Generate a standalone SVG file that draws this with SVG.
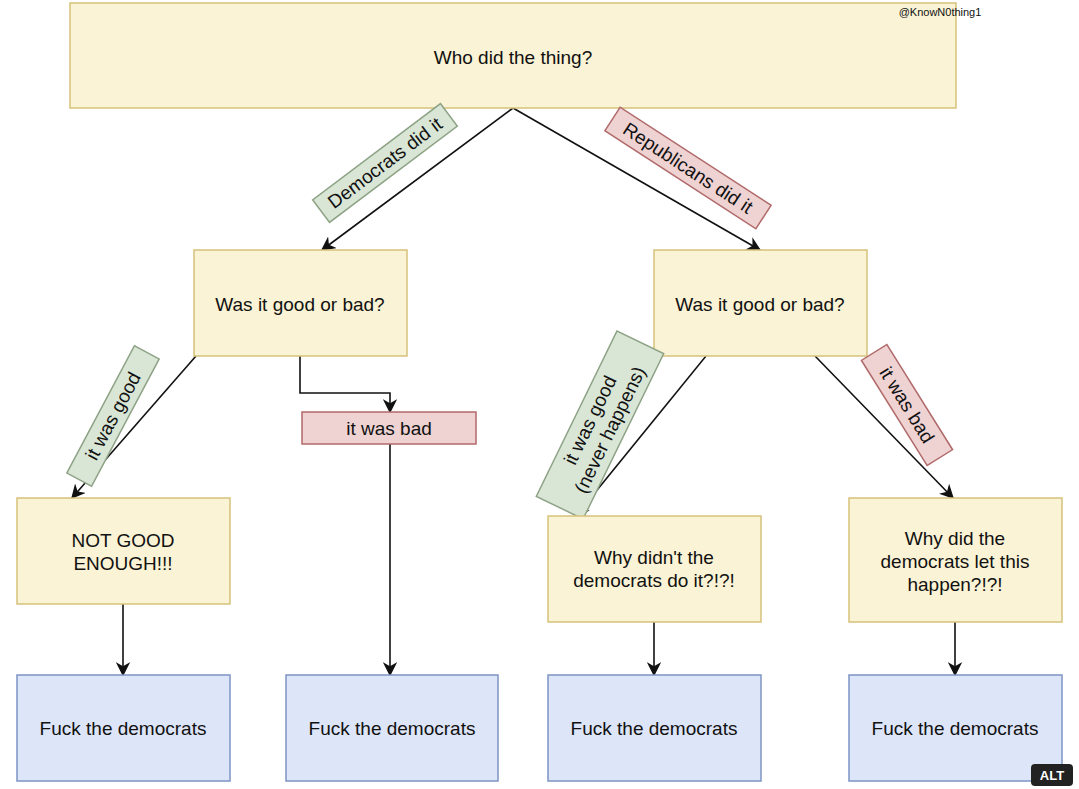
<svg xmlns="http://www.w3.org/2000/svg" width="1079" height="789" viewBox="0 0 1079 789">
<defs>
<style>
text{font-family:"Liberation Sans",Arial,sans-serif;fill:#111;text-anchor:middle;dominant-baseline:central}
.y{fill:#fbf3d5;stroke:#d6c27a;stroke-width:1.5}
.b{fill:#dde5f8;stroke:#7d94c4;stroke-width:1.5}
.g{fill:#d9e6d6;stroke:#8ea386;stroke-width:1.5}
.r{fill:#efd3d3;stroke:#b16a6a;stroke-width:1.5}
.t{font-size:19px}
.c{fill:none;stroke:#111;stroke-width:1.6;marker-end:url(#a)}
</style>
<marker id="a" viewBox="0 0 10 10" refX="9" refY="5" markerWidth="9" markerHeight="9" orient="auto"><path d="M0,0L10,5L0,10L3,5z" fill="#111"/></marker>
</defs>
<rect width="1079" height="789" fill="#fff"/>
<g id="connectors">
<path class="c" d="M513,108L322,250"/>
<path class="c" d="M513,108L760,250"/>
<path class="c" d="M196,356L72,498"/>
<path class="c" d="M300,356V393H390V412"/>
<path class="c" d="M390,444V675"/>
<path class="c" d="M706,356L576,516"/>
<path class="c" d="M815,356L953,498"/>
<path class="c" d="M123,604V675"/>
<path class="c" d="M654,622V675"/>
<path class="c" d="M955,622V675"/>
</g>
<g id="top"><rect class="y" x="70" y="3" width="886" height="105"/><text class="t" x="513" y="57">Who did the thing?</text></g>
<text x="940" y="12" font-size="11">@KnowN0thing1</text>
<g id="lab-dem" transform="translate(385,163) rotate(-37)"><rect class="g" x="-80" y="-14" width="160" height="28"/><text class="t" y="0">Democrats did it</text></g>
<g id="lab-rep" transform="translate(688,168) rotate(33)"><rect class="r" x="-90" y="-14" width="180" height="28"/><text class="t" y="0">Republicans did it</text></g>
<g id="q1"><rect class="y" x="194" y="250" width="213" height="106"/><text class="t" x="300" y="304">Was it good or bad?</text></g>
<g id="q2"><rect class="y" x="654" y="250" width="213" height="106"/><text class="t" x="760" y="304">Was it good or bad?</text></g>
<g id="lab-good1" transform="translate(113,416) rotate(-62)"><rect class="g" x="-72" y="-14" width="144" height="28"/><text class="t" y="0">it was good</text></g>
<g id="bad1"><rect class="r" x="302" y="412" width="174" height="32"/><text class="t" x="389" y="428">it was bad</text></g>
<g id="lab-good2" transform="translate(600,425) rotate(-64)"><rect class="g" x="-92" y="-26" width="184" height="52"/><text class="t" y="-11">it was good</text><text class="t" y="11">(never happens)</text></g>
<g id="lab-bad2" transform="translate(907,405) rotate(58)"><rect class="r" x="-62" y="-15" width="124" height="30"/><text class="t" y="0">it was bad</text></g>
<g id="ng"><rect class="y" x="17" y="498" width="213" height="106"/><text class="t" x="123" y="540">NOT GOOD</text><text class="t" x="123" y="563">ENOUGH!!!</text></g>
<g id="wd"><rect class="y" x="548" y="516" width="213" height="106"/><text class="t" x="654" y="557">Why didn't the</text><text class="t" x="654" y="580">democrats do it?!?!</text></g>
<g id="wl"><rect class="y" x="849" y="498" width="213" height="124"/><text class="t" x="955" y="538">Why did the</text><text class="t" x="955" y="561">democrats let this</text><text class="t" x="955" y="584">happen?!?!</text></g>
<g id="f1"><rect class="b" x="17" y="675" width="213" height="106"/><text class="t" x="123" y="728">Fuck the democrats</text></g>
<g id="f2"><rect class="b" x="286" y="675" width="212" height="106"/><text class="t" x="392" y="728">Fuck the democrats</text></g>
<g id="f3"><rect class="b" x="548" y="675" width="213" height="106"/><text class="t" x="654" y="728">Fuck the democrats</text></g>
<g id="f4"><rect class="b" x="849" y="675" width="213" height="106"/><text class="t" x="955" y="728">Fuck the democrats</text></g>
<g id="alt"><rect x="1031" y="764" width="42" height="22" rx="4" fill="#222"/><text x="1052" y="775" font-size="13" font-weight="bold" style="fill:#fff">ALT</text></g>
</svg>
